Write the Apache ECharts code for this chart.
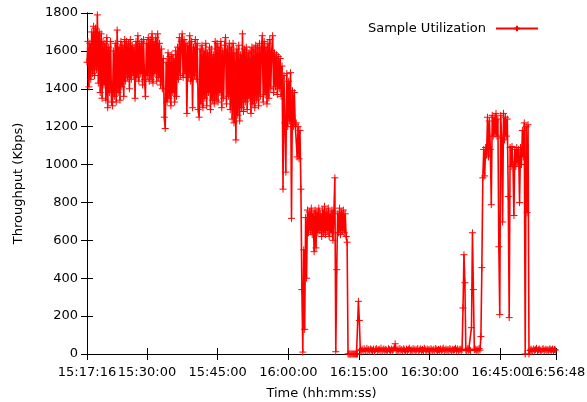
<!DOCTYPE html>
<html><head><meta charset="utf-8">
<script src="https://cdn.jsdelivr.net/npm/echarts@6/dist/echarts.min.js"></script>
<style>html,body{margin:0;padding:0;background:#fff}#c{width:587px;height:402px}</style>
</head><body><div id="c"></div>
<script>
const START_CLOCK = '15:17:16';
const END_CLOCK = '16:56:48';
const SAMPLE_SECONDS = 12;
const timeTicks = ['15:17:16','15:30:00','15:45:00','16:00:00','16:15:00','16:30:00','16:45:00','16:56:48'];
const seriesName = 'Sample Utilization';

// Throughput (Kbps), one value per 12 s sample
const phaseSteady = [
1540,1650,1410,1640,1450,1700,
1480,1730,1470,1720,1500,1790,1430,1700,
1380,1690,1350,1650,1420,1640,1340,1670,1300,1620,1380,1650,1330,1310,1600,1360,
1640,1330,1710,1380,1620,1340,1650,1410,1630,1360,1660,
1440,1650,1460,1640,1400,1660,1450,1630,1470,1620,1350,1650,1460,1680,1440,1640,1480,1650,1420,1660,1450,1360,1640,1470,1670,1440,
1660,1450,1690,1430,1650,1480,1670,1440,1690,1460,1640,1420,1610,1400,
1560,1250,1190,1540,
1330,1590,1350,1570,1310,1580,1380,1560,1330,1600,1360,1620,
1450,1670,1470,1650,1690,1460,1660,1480,1640,1270,1630,1460,1680,1440,1650,1300,1620,1470,1660,1450,1640,1290,1250,1610,
1320,1630,1300,1600,1350,1640,1310,1590,1380,1620,1290,1610,1340,1580,1320,1650,
1340,1640,1330,1620,1380,1650,1300,1600,1350,1630,1670,1320,1610,1360,1640,1290,
1620,1240,1640,1220,1590,1130,1610,1260,1630,1230,1580,
1300,1690,1280,1610,1330,1620,1290,1590,1350,1600,1270,1620,1320,1610,1300,
1630,1340,1620,1310,1640,1360,1610,1680,1330,1650,1370,1620,1320,1640,1350,1660,
1400,1600,1680,1380,1590,1410,1580,1370,1570,1400,1560,1360,1520
];
const phaseDecline = [
870,1470,1220,960,1480,1200,1440,1230,1485,716,1390,1200,1380,1210,1220,1040,1200,1030,1180
];
const phasePlateau = [
870,340,10,550,130,720,400,760,640,750,650,770,630,740,540,760,560,750,640,770,
650,740,620,760,640,780,630,750,650,770,620,740,640,760,600,750,930,12,445,740,
640,770,630,750,650,760,640,740,620,590,0
];
const phaseIdle = [
0,0,0,0,0,0,0,0,0,0,278,177,
22,18,25,15,28,20,17,30,19,24,
16,27,21,18,26,14,23,29,17,22,
25,19,31,16,21,27,18,24,20,15,
28,22,17,26,19,23,30,54,21,18,
25,16,29,20,23,17,27,21,14,26,
19,24,31,18,22,15,28,20,25,17,
23,29,16,21,27,19,24,18,30,22,
15,26,20,23,17,28,21,19,25,16,
29,22,18,24,20,27,15,23,31,19,
21,26,17,24,18,28,22,16,25,20,
23,30,19,27,15,22,26,18,24,243,
524,376,21,17,28,20,25,18,139,640,
340,22,26,19,24,17,29,21,92
];
const phaseBurst = [
456,930,1080,940,1090,
1050,1250,1040,1230,1080,788,
1260,1150,1250,1160,1270,1150,1240,566,208,
1260,1140,697,1270,1130,1250,1150,1240,831,192,
1090,990,1095,1000,731,1080,990,1090,1010,1080,799,1090,1000,
1180,1040,1220,0,1200,746,1210,0
];
const phaseTail = [
18,25,21,16,27,19,23,30,17,22,
26,20,15,24,28,18,21,25,19,23,
17,27,22,20,26,16,24,21
];

function toSec(s){const p=s.split(':').map(Number);return p[0]*3600+p[1]*60+p[2];}
const base = toSec(START_CLOCK);
const xMax = toSec(END_CLOCK) - base;
const tickOffsets = timeTicks.map(t => toSec(t) - base);
const values = [].concat(phaseSteady, phaseDecline, phasePlateau, phaseIdle, phaseBurst, phaseTail);
const data = values.map((v, i) => [i * SAMPLE_SECONDS, v]);
function pad(n){return (n<10?'0':'')+n;}
function fmt(sec){const t=base+Math.round(sec);return pad(Math.floor(t/3600))+':'+pad(Math.floor(t%3600/60))+':'+pad(t%60);}

const FONT = 'DejaVu Sans';
const axisLine = {show:true, lineStyle:{color:'#000', width:1}};
const tickIn = {show:true, inside:true, length:6, lineStyle:{color:'#000', width:1}};
const labelStyle = {formatter:fmt, hideOverlap:false, fontFamily:FONT, fontSize:13, color:'#000', margin:12};
const chart = echarts.init(document.getElementById('c'), null, {renderer:'canvas'});
chart.setOption({
  animation:false,
  backgroundColor:'#fff',
  textStyle:{fontFamily:FONT},
  grid:{left:87, right:31, top:13, bottom:48, containLabel:false, outerBoundsMode:'none'},
  legend:{
    data:[seriesName], right:43, top:17, align:'right',
    itemWidth:42, itemHeight:7, itemGap:0,
    textStyle:{fontFamily:FONT, fontSize:13, color:'#000', padding:[0,5,0,0]}
  },
  xAxis:[{
    type:'value', min:0, max:xMax, position:'bottom',
    name:'Time (hh:mm:ss)', nameLocation:'middle', nameGap:33,
    nameTextStyle:{fontFamily:FONT, fontSize:13, color:'#000'},
    axisLine:axisLine,
    axisTick:Object.assign({customValues:tickOffsets}, tickIn),
    axisLabel:Object.assign({customValues:tickOffsets.slice(0, -1), showMinLabel:true}, labelStyle),
    splitLine:{show:false}
  },{
    type:'value', min:0, max:xMax, position:'top',
    axisLine:axisLine,
    axisTick:Object.assign({customValues:tickOffsets}, tickIn),
    axisLabel:{show:false}, splitLine:{show:false}
  },{
    type:'value', min:0, max:xMax, position:'bottom',
    axisLine:{show:false}, axisTick:{show:false},
    axisLabel:Object.assign({customValues:tickOffsets.slice(-1), showMaxLabel:true}, labelStyle),
    splitLine:{show:false}
  }],
  yAxis:[{
    type:'value', min:0, max:1800, interval:200, position:'left',
    name:'Throughput (Kbps)', nameLocation:'middle', nameGap:62,
    nameTextStyle:{fontFamily:FONT, fontSize:13, color:'#000'},
    axisLine:axisLine, axisTick:tickIn,
    axisLabel:{formatter:v => String(v), fontFamily:FONT, fontSize:13, color:'#000', margin:9},
    splitLine:{show:false}
  },{
    type:'value', min:0, max:1800, interval:200, position:'right',
    axisLine:axisLine, axisTick:tickIn, axisLabel:{show:false}, splitLine:{show:false}
  }],
  series:[{
    name:seriesName, type:'line', data:data, xAxisIndex:0, yAxisIndex:0,
    showSymbol:true, showAllSymbol:true, sampling:null,
    symbol:'path://M5,0L5,10M0,5L10,5', symbolSize:7,
    lineStyle:{color:'#ff0000', width:1.6},
    itemStyle:{color:'#ff0000', borderColor:'#ff0000', borderWidth:1},
    emphasis:{disabled:true}
  }]
});
</script></body></html>
